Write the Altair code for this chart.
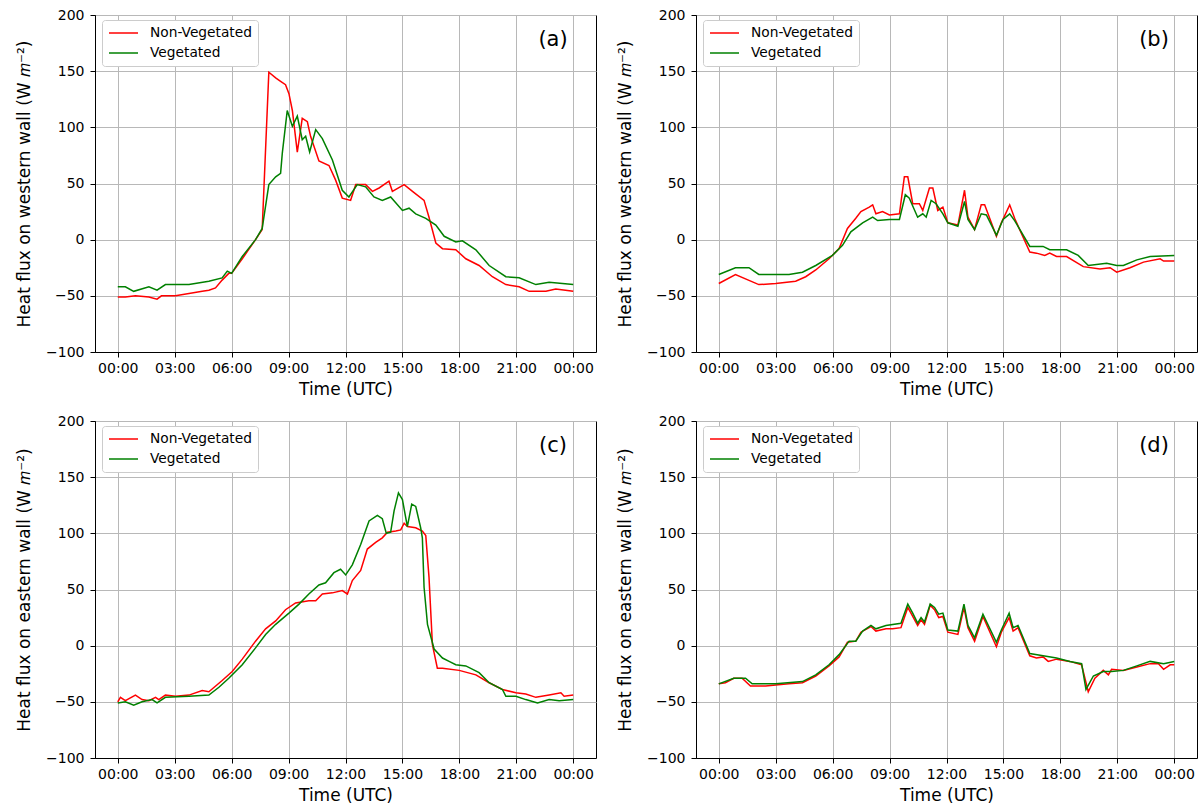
import altair as alt
import pandas as pd

# ---- axes ----
HOUR_TICKS = [0, 3, 6, 9, 12, 15, 18, 21, 24]
FLUX_TICKS = [-100, -50, 0, 50, 100, 150, 200]
SERIES = ["Non-Vegetated", "Vegetated"]
COLORS = ["#ff0000", "#008000"]

# ---- (a) western wall, case 1 ----
a_nonveg_h = [0, 0.4, 0.93, 1.64, 2.07, 2.3, 3.04, 3.75, 4.45, 4.8, 5.15, 5.5, 5.85, 6.0, 6.56,
              7.26, 7.61, 7.96, 8.32, 8.58, 8.84, 9.02, 9.2, 9.46, 9.72, 9.99, 10.16, 10.6,
              11.13, 11.48, 11.83, 12.27, 12.54, 13.06, 13.42, 13.77, 14.29, 14.47, 15.09,
              15.53, 16.14, 16.4, 16.76, 17.11, 17.81, 18.34, 19.04, 19.74, 20.45, 21.15,
              21.68, 22.56, 23.08, 24]
a_nonveg_v = [-51, -51, -50, -51, -53, -50, -50, -48, -46, -45, -43, -36, -30, -30, -17,
              0, 9, 149, 144, 141, 138, 130, 115, 78, 108, 105, 92, 70,
              66, 53, 37, 35, 49, 49, 43, 46, 52, 43, 49,
              43, 35, 20, -3, -8, -9, -17, -23, -33, -40, -42,
              -46, -46, -44, -46]
a_veg_h = [0, 0.4, 0.84, 1.64, 2.07, 2.51, 3.75, 4.8, 5.5, 5.77, 6.0, 6.56, 7.26, 7.61, 7.96,
           8.32, 8.58, 8.67, 8.93, 9.2, 9.46, 9.72, 9.9, 10.11, 10.43, 10.78, 11.31, 11.83,
           12.18, 12.62, 13.06, 13.5, 13.94, 14.38, 15.0, 15.35, 15.7, 16.23, 16.76, 17.2,
           17.81, 18.16, 18.87, 19.57, 20.45, 21.15, 22.03, 22.73, 24]
a_veg_v = [-42, -42, -46, -42, -45, -40, -40, -37, -34, -28, -30, -15, 0, 10, 49,
           56, 59, 77, 115, 101, 110, 89, 92, 78, 98, 90, 71, 44,
           38, 49, 47, 38, 35, 38, 26, 28, 23, 19, 13, 3,
           -2, -1, -9, -23, -33, -34, -40, -38, -40]

# ---- (b) western wall, case 2 ----
b_nonveg_h = [0, 0.88, 2.11, 3.0, 4.05, 4.58, 5.11, 5.81, 6.34, 6.78, 7.22, 7.49, 7.93, 8.11,
              8.28, 8.63, 8.99, 9.52, 9.78, 9.96, 10.22, 10.57, 10.75, 11.10, 11.28, 11.54,
              11.81, 12.07, 12.60, 12.95, 13.13, 13.48, 13.83, 14.01, 14.63, 14.89, 15.33,
              15.59, 16.39, 16.74, 17.18, 17.44, 17.80, 18.33, 19.21, 20.09, 20.62, 20.97,
              21.67, 22.38, 23.26, 23.44, 24]
b_nonveg_v = [-39, -31, -40, -39, -37, -33, -27, -17, -8, 10, 19, 25, 29, 31,
              23, 25, 22, 23, 56, 56, 32, 32, 26, 46, 46, 26,
              29, 15, 13, 44, 20, 9, 31, 31, 3, 15, 31,
              19, -11, -12, -14, -12, -15, -15, -24, -26, -25, -29,
              -25, -20, -17, -19, -19]
b_veg_h = [0, 0.88, 1.59, 2.11, 3.70, 4.41, 5.11, 5.99, 6.52, 6.96, 7.58, 8.11, 8.37, 8.99,
           9.52, 9.83, 10.04, 10.48, 10.75, 10.93, 11.19, 11.45, 11.81, 12.07, 12.60, 12.95,
           13.13, 13.48, 13.83, 14.10, 14.63, 14.98, 15.33, 15.59, 16.39, 17.09, 17.44,
           18.33, 18.94, 19.47, 20.44, 20.97, 21.32, 22.03, 22.73, 24]
b_veg_v = [-31, -25, -25, -31, -31, -29, -23, -14, -5, 7, 15, 20, 17, 18,
           18, 40, 37, 20, 23, 20, 35, 32, 23, 15, 12, 34,
           18, 9, 23, 22, 4, 18, 23, 17, -6, -6, -9,
           -9, -14, -23, -21, -23, -23, -18, -15, -14]

# ---- (c) eastern wall, case 1 ----
c_nonveg_h = [0, 0.14, 0.40, 0.93, 1.28, 1.64, 1.99, 2.16, 2.51, 3.04, 3.75, 4.45, 4.80, 5.50,
              6.03, 6.56, 7.26, 7.79, 8.32, 8.84, 9.37, 10.07, 10.43, 10.78, 11.31, 11.83,
              12.10, 12.36, 12.80, 13.15, 13.59, 13.94, 14.21, 14.65, 14.91, 15.09, 15.26,
              15.70, 16.05, 16.23, 16.40, 16.58, 16.84, 17.11, 17.99, 18.87, 19.57, 20.27,
              20.98, 21.50, 22.03, 22.73, 23.35, 23.52, 24]
c_nonveg_v = [-50, -46, -49, -44, -48, -49, -46, -48, -44, -45, -44, -40, -41, -31,
              -23, -12, 4, 15, 22, 32, 38, 40, 40, 46, 47, 49,
              46, 58, 67, 86, 92, 96, 101, 102, 103, 109, 106,
              105, 102, 98, 61, 1, -20, -20, -22, -26, -33, -39,
              -42, -43, -46, -44, -42, -45, -44]
c_veg_h = [0, 0.40, 0.84, 1.28, 1.81, 2.07, 2.51, 3.75, 4.80, 5.33, 5.85, 6.56, 7.26, 7.79,
           8.32, 9.02, 9.55, 10.07, 10.60, 10.95, 11.39, 11.74, 12.01, 12.36, 12.80, 13.24,
           13.68, 13.94, 14.15, 14.38, 14.56, 14.79, 15.00, 15.26, 15.49, 15.70, 15.96,
           16.05, 16.14, 16.32, 16.67, 17.11, 17.46, 17.81, 18.34, 19.04, 19.57, 20.27,
           20.45, 20.98, 21.50, 22.12, 22.73, 23.26, 24]
c_veg_v = [-51, -50, -53, -50, -48, -51, -46, -45, -44, -37, -29, -17, -2, 10,
           19, 29, 37, 46, 54, 56, 65, 68, 63, 72, 90, 111,
           116, 113, 100, 101, 120, 136, 130, 106, 126, 124, 105,
           96, 52, 19, -3, -11, -14, -17, -18, -24, -33, -39,
           -45, -45, -48, -51, -48, -49, -48]

# ---- (d) eastern wall, case 2 ----
d_nonveg_h = [0, 0.35, 0.79, 1.23, 1.67, 2.47, 3.00, 3.70, 4.41, 5.11, 5.81, 6.34, 6.78, 7.22,
              7.49, 8.02, 8.28, 8.81, 9.16, 9.60, 9.96, 10.22, 10.48, 10.66, 10.84, 11.14,
              11.37, 11.59, 11.81, 12.07, 12.60, 12.92, 13.13, 13.48, 13.92, 14.63, 14.89,
              15.30, 15.51, 15.77, 16.39, 16.74, 17.09, 17.36, 17.80, 18.50, 19.12, 19.47,
              19.82, 20.26, 20.53, 20.70, 21.32, 22.03, 22.73, 23.17, 23.44, 23.79, 24]
d_nonveg_v = [-34, -33, -29, -29, -36, -36, -35, -34, -33, -27, -18, -10, 3, 4,
              12, 17, 13, 15, 15, 16, 34, 26, 18, 23, 19, 36,
              32, 25, 26, 12, 10, 34, 16, 4, 26, -1, 12,
              25, 13, 16, -9, -11, -10, -14, -12, -14, -17, -41,
              -29, -22, -26, -21, -22, -19, -16, -16, -21, -17, -17]
d_veg_h = [0, 0.79, 1.41, 1.76, 3.00, 4.41, 5.11, 5.81, 6.34, 6.87, 7.22, 7.58, 8.02, 8.28,
           8.81, 9.60, 9.96, 10.22, 10.48, 10.66, 10.84, 11.14, 11.37, 11.59, 11.81, 12.07,
           12.60, 12.92, 13.13, 13.48, 13.92, 14.63, 14.89, 15.30, 15.51, 15.77, 16.39,
           17.09, 17.80, 18.50, 19.12, 19.35, 19.74, 20.26, 20.70, 21.32, 22.03, 22.73,
           23.44, 24]
d_veg_v = [-34, -29, -29, -34, -34, -32, -26, -17, -8, 4, 4, 13, 18, 15,
           18, 20, 37, 29, 20, 25, 21, 37, 34, 28, 29, 14,
           13, 37, 18, 7, 28, 3, 14, 29, 16, 18, -7,
           -9, -11, -14, -16, -39, -27, -23, -23, -22, -18, -14,
           -16, -14]

WEST_TITLE = "Heat flux on western wall (W 𝑚⁻²)"
EAST_TITLE = "Heat flux on eastern wall (W 𝑚⁻²)"

HOUR_LABEL = "(datum.value % 24 < 10 ? '0' : '') + (datum.value % 24) + ':00'"


def frame(h_nv, v_nv, h_v, v_v):
    rows = []
    for name, hs, vs in ((SERIES[0], h_nv, v_nv), (SERIES[1], h_v, v_v)):
        assert len(hs) == len(vs), name
        rows += [{"hour": h, "flux": v, "series": name} for h, v in zip(hs, vs)]
    return pd.DataFrame(rows)


def panel(df, y_title, tag):
    lines = alt.Chart(df).mark_line(strokeWidth=1.5).encode(
        x=alt.X("hour:Q", title="Time (UTC)",
                scale=alt.Scale(domain=[-1.2, 25.2], nice=False, zero=False),
                axis=alt.Axis(values=HOUR_TICKS, labelExpr=HOUR_LABEL)),
        y=alt.Y("flux:Q", title=y_title,
                scale=alt.Scale(domain=[-100, 200], nice=False, zero=False),
                axis=alt.Axis(values=FLUX_TICKS)),
        color=alt.Color("series:N", title=None,
                        scale=alt.Scale(domain=SERIES, range=COLORS),
                        legend=alt.Legend(orient="none", legendX=7, legendY=5)),
    )
    label = alt.Chart(pd.DataFrame({"tag": [tag]})).mark_text(
        fontSize=21, font="DejaVu Sans", color="black", baseline="middle", align="center"
    ).encode(text="tag:N", x=alt.value(458), y=alt.value(25))
    return alt.layer(lines, label).properties(width=501, height=337)


pa = panel(frame(a_nonveg_h, a_nonveg_v, a_veg_h, a_veg_v), WEST_TITLE, "(a)")
pb = panel(frame(b_nonveg_h, b_nonveg_v, b_veg_h, b_veg_v), WEST_TITLE, "(b)")
pc = panel(frame(c_nonveg_h, c_nonveg_v, c_veg_h, c_veg_v), EAST_TITLE, "(c)")
pd_ = panel(frame(d_nonveg_h, d_nonveg_v, d_veg_h, d_veg_v), EAST_TITLE, "(d)")

top = alt.hconcat(pa, pb, spacing=19).resolve_scale(color="independent")
bottom = alt.hconcat(pc, pd_, spacing=19).resolve_scale(color="independent")

chart = (
    alt.vconcat(top, bottom, spacing=15)
    .resolve_scale(color="independent")
    .properties(padding={"left": 15, "top": 7, "right": 4, "bottom": 0})
    .configure(font="DejaVu Sans")
    .configure_view(stroke="black", strokeWidth=1)
    .configure_axis(
        labelFont="DejaVu Sans", labelFontSize=14, labelColor="black",
        titleFont="DejaVu Sans", titleFontSize=17, titleFontWeight="normal", titleColor="black",
        tickColor="black", tickSize=5, tickWidth=1,
        domainColor="black", domainWidth=1,
        grid=True, gridColor="#b8b8b8", gridWidth=1,
    )
    .configure_axisY(labelPadding=6, titlePadding=12)
    .configure_axisX(labelPadding=4, titlePadding=6)
    .configure_legend(
        fillColor="white", strokeColor="#cccccc", cornerRadius=3, padding=6,
        labelFont="DejaVu Sans", labelFontSize=13.75, labelColor="black",
        symbolType="stroke", symbolSize=841, symbolStrokeWidth=1.5,
        labelOffset=11, rowPadding=6, clipHeight=14,
    )
)

chart.save("out.html", embed_options={"renderer": "svg", "actions": False})
